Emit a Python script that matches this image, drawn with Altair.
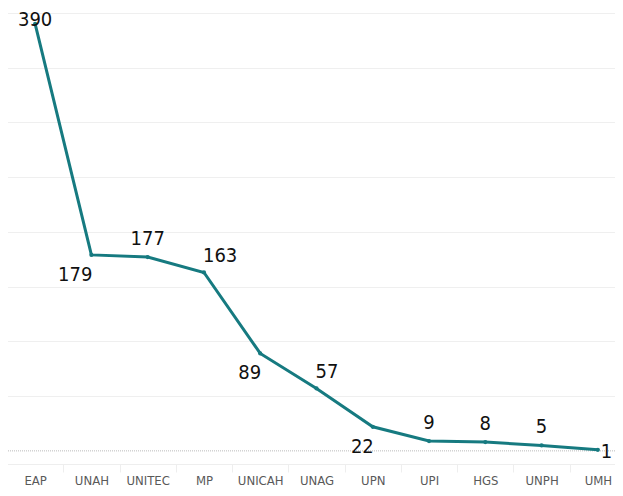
import altair as alt
import pandas as pd

categories = ["EAP", "UNAH", "UNITEC", "MP", "UNICAH", "UNAG", "UPN", "UPI", "HGS", "UNPH", "UMH"]
values = [390, 179, 177, 163, 89, 57, 22, 9, 8, 5, 1]

df = pd.DataFrame({"cat": categories, "val": values})

COLOR = "#167a80"
FONT = "DejaVu Sans Condensed, Lato"
AXFONT = "DejaVu Sans Condensed, Lato"

W, H = 607, 451

x_scale = alt.Scale(type="band", paddingInner=0, paddingOuter=0, range=[-1, 618])
x_enc = alt.X("cat:N", sort=categories, bandPosition=0.5, scale=x_scale,
              axis=alt.Axis(title=None, labelAngle=0, labelFont=AXFONT, labelFontSize=13,
                            labelColor="#595959", domainColor="#eeeeee", tickColor="#eeeeee",
                            tickBand="extent", tickSize=8, labelPadding=2, grid=False))
y_enc = alt.Y("val:Q", scale=alt.Scale(domain=[-12, 400], nice=False, zero=False),
              axis=alt.Axis(title=None, labels=False, ticks=False, domain=False,
                            values=[50, 100, 150, 200, 250, 300, 350, 400],
                            gridColor="#efefef", gridWidth=1))

base = alt.Chart(df)

line = base.mark_line(color=COLOR, strokeWidth=3).encode(x=x_enc, y=y_enc)
pts = base.mark_circle(color=COLOR, size=18, opacity=1).encode(x=x_enc, y=y_enc)

zero = alt.Chart(pd.DataFrame({"z": [0]})).mark_rule(color="#bbbbbb", strokeDash=[1, 1], strokeWidth=1).encode(y="z:Q")

def labels(names, **kw):
    params = dict(font=FONT, fontSize=20, color="#111111", baseline="middle")
    params.update(kw)
    return base.transform_filter(alt.FieldOneOfPredicate(field="cat", oneOf=names)).mark_text(**params).encode(
        x=alt.X("cat:N", sort=categories, bandPosition=0.5), y="val:Q", text="val:Q")

lab_top = labels(["EAP"], dy=-4)
lab_above = labels(["UNITEC", "UPI", "HGS", "UNPH"], dy=-18)
lab_below_left = labels(["UNAH", "UNICAH", "UPN"], align="right", dx=1, dy=20)
lab_above_right = labels(["MP", "UNAG"], align="left", dx=-1, dy=-16)
lab_right = labels(["UMH"], align="left", dx=3, dy=2)

chart = alt.layer(zero, line, pts, lab_top, lab_above, lab_below_left, lab_above_right, lab_right).properties(
    width=W, height=H,
    autosize=alt.AutoSizeParams(type="none"),
    padding={"left": 0, "top": 5, "right": 0, "bottom": 24},
).configure_view(stroke=None)

chart.save("out.html", embed_options={"renderer": "svg", "actions": False})
